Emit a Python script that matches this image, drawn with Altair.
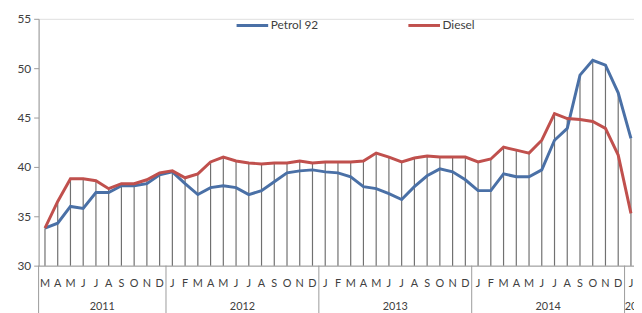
import altair as alt
import pandas as pd

# Month letters from Mar 2011 to Feb 2015 (the chart is cropped after Jan 2015)
months = (["M", "A", "M", "J", "J", "A", "S", "O", "N", "D"]
          + ["J", "F", "M", "A", "M", "J", "J", "A", "S", "O", "N", "D"] * 3
          + ["J", "F"])
years = [2011] * 10 + [2012] * 12 + [2013] * 12 + [2014] * 12 + [2015] * 2

petrol = [33.8, 34.3, 36.0, 35.8, 37.4, 37.4, 38.1, 38.1, 38.3, 39.2,
          39.5, 38.3, 37.2, 37.9, 38.1, 37.9, 37.2, 37.6, 38.5, 39.4, 39.6, 39.7,
          39.5, 39.4, 39.0, 38.0, 37.8, 37.3, 36.7, 38.0, 39.1, 39.8, 39.5, 38.7,
          37.6, 37.6, 39.3, 39.0, 39.0, 39.7, 42.7, 43.9, 49.3, 50.8, 50.3, 47.5,
          42.9, None]
diesel = [33.8, 36.5, 38.8, 38.8, 38.6, 37.8, 38.3, 38.3, 38.7, 39.4,
          39.6, 38.9, 39.3, 40.5, 41.0, 40.6, 40.4, 40.3, 40.4, 40.4, 40.6, 40.4,
          40.5, 40.5, 40.5, 40.6, 41.4, 41.0, 40.5, 40.9, 41.1, 41.0, 41.0, 41.0,
          40.5, 40.8, 42.0, 41.7, 41.4, 42.7, 45.4, 44.9, 44.8, 44.6, 43.9, 41.2,
          35.3, None]

series_names = ["Petrol 92", "Diesel"]
series_colors = ["#4a70a6", "#c0504d"]

idx = list(range(len(months)))
wide = pd.DataFrame({"idx": idx, "month": months, "year": years,
                     "petrol": petrol, "diesel": diesel})
valid = wide.dropna(subset=["petrol", "diesel"]).copy()
valid["top"] = valid[["petrol", "diesel"]].max(axis=1)

long = pd.concat([
    pd.DataFrame({"idx": valid["idx"], "series": "Petrol 92", "value": valid["petrol"]}),
    pd.DataFrame({"idx": valid["idx"], "series": "Diesel", "value": valid["diesel"]}),
])

# year boundaries and year label centres derived from the month list
bounds = pd.DataFrame({"idx": [-0.5] + [i - 0.5 for i in idx if i > 0 and years[i] != years[i - 1]]})
year_lab = wide.groupby("year", as_index=False)["idx"].mean()
year_lab["label"] = year_lab["year"].astype(str)

FONT = "Lato"
TXT = "#404040"
GRAY = "#9a9a9a"

xscale = alt.Scale(domain=[-0.5, 46.24], nice=False, zero=False)
xaxis = alt.Axis(labels=False, ticks=False, grid=False, title=None,
                 domainColor=GRAY, domainWidth=1)
X = alt.X("idx:Q", scale=xscale, axis=xaxis)

yscale = alt.Scale(domain=[30, 55], nice=False, zero=False)
yaxis = alt.Axis(values=[30, 35, 40, 45, 50, 55], grid=False, title=None,
                 tickSize=5, tickColor=GRAY, domainColor=GRAY, labelPadding=3,
                 labelFont=FONT, labelFontSize=12, labelColor=TXT)

drops = alt.Chart(valid).mark_rule(color="#707070", strokeWidth=1.2).encode(
    x=X,
    y=alt.Y("top:Q", scale=yscale, axis=yaxis),
    y2=alt.value(250),
)

seps = alt.Chart(bounds).mark_rule(color=GRAY, strokeWidth=1).encode(
    x=X, y=alt.value(250), y2=alt.value(300)
)

mon_text = alt.Chart(wide).mark_text(font=FONT, fontSize=11, color=TXT, baseline="middle").encode(
    x=X, y=alt.value(269), text="month:N"
)

yr_text = alt.Chart(year_lab).mark_text(font=FONT, fontSize=11, color=TXT, baseline="middle").encode(
    x=X, y=alt.value(292), text="label:N"
)

color = alt.Color("series:N", scale=alt.Scale(domain=series_names, range=series_colors),
                  legend=alt.Legend(title=None, orient="none", direction="horizontal",
                                    legendX=199, legendY=-11, symbolType="stroke",
                                    symbolSize=1024, symbolStrokeWidth=3,
                                    labelFont=FONT, labelFontSize=12, labelColor=TXT,
                                    labelOffset=1, columnPadding=84, padding=0))

petrol_line = alt.Chart(long).transform_filter(alt.datum.series == "Petrol 92").mark_line(
    strokeWidth=3).encode(x=X, y=alt.Y("value:Q", scale=yscale, axis=yaxis), color=color)
diesel_line = alt.Chart(long).transform_filter(alt.datum.series == "Diesel").mark_line(
    strokeWidth=3).encode(x=X, y=alt.Y("value:Q", scale=yscale, axis=yaxis), color=color)

chart = alt.layer(drops, seps, mon_text, yr_text, petrol_line, diesel_line).properties(
    width=603, height=250,
    padding={"left": 31, "top": 9, "right": 0, "bottom": 46},
    autosize=alt.AutoSizeParams(type="none"),
).configure_view(stroke=None).configure(font=FONT, background="white")

chart.save("out.html", embed_options={"renderer": "svg", "actions": False})
